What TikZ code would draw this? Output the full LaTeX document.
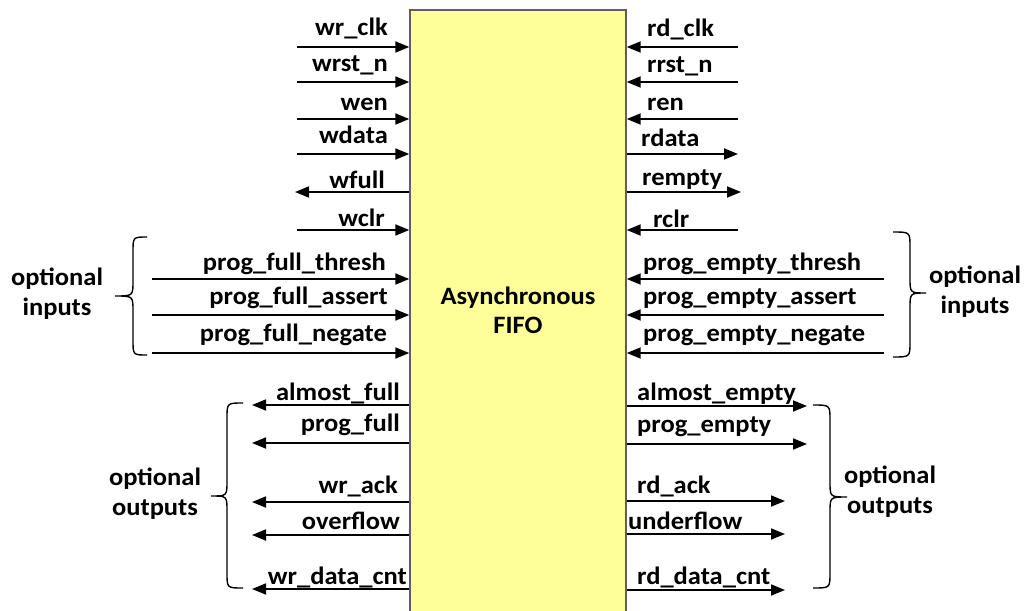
\documentclass[tikz,border=0pt]{standalone}
\usepackage{fontspec}
\setmainfont{Carlito}[FakeStretch=1.06]
\usetikzlibrary{arrows.meta}
\definecolor{fifofill}{HTML}{FFFF99}
\definecolor{fifoedge}{HTML}{5F5F5F}
\tikzset{
  sig/.style={font=\bfseries\fontsize{25}{29}\selectfont, inner sep=0pt},
  lsig/.style={sig, anchor=base east},
  rsig/.style={sig, anchor=base west},
  grp/.style={font=\bfseries\fontsize{25}{30}\selectfont, align=center, inner sep=0pt},
  wire/.style={line width=1.8pt, -{Triangle[length=14pt,width=11pt]}},
  bracepath/.style={line width=1.4pt},
}
\begin{document}
\begin{tikzpicture}[x=1pt,y=-1pt]
\useasboundingbox (0,0) rectangle (1035,610);
\clip (0,0) rectangle (1035,610);

% the FIFO block
\node[draw=fifoedge, line width=1.4pt, fill=fifofill, minimum width=216pt,
      minimum height=612pt, inner sep=0pt] (box) at (518,316) {};
\node[grp, font=\bfseries\fontsize{25}{29}\selectfont] (title) at (518,310) {Asynchronous\\FIFO};

% ---------- write side ----------
\foreach \n/\y in {wclk/47, wrst/82, wen/119, wdata/154, wclr/230}
  \coordinate (\n) at (297,\y);
\foreach \n in {wclk, wrst, wen, wdata, wclr}
  \draw[wire] (\n) -- (\n -| box.west);
\coordinate (wfull) at (295,192);
\draw[wire] (wfull -| box.west) -- (wfull);

\foreach \n/\y in {pft/279, pfa/315, pfn/353}
  \coordinate (\n) at (152,\y);
\foreach \n in {pft, pfa, pfn}
  \draw[wire] (\n) -- (\n -| box.west);

\foreach \n/\y in {afull/405, pfull/443, wack/502, ovf/535, wcnt/589}
  \coordinate (\n) at (252,\y);
\foreach \n in {afull, pfull, wack, ovf, wcnt}
  \draw[wire] (\n -| box.west) -- (\n);

\node[lsig] (l1)  at (388,36)  {wr\_clk};
\node[lsig] (l2)  at (388,71)  {wrst\_n};
\node[lsig] (l3)  at (388,110) {wen};
\node[lsig] (l4)  at (388,143) {wdata};
\node[lsig] (l5)  at (385,188) {wfull};
\node[lsig] (l6)  at (385,226) {wclr};
\node[lsig] (l7)  at (386,270) {prog\_full\_thresh};
\node[lsig] (l8)  at (388,304) {prog\_full\_assert};
\node[lsig] (l9)  at (387,341) {prog\_full\_negate};
\node[lsig] (l10) at (400,400) {almost\_full};
\node[lsig] (l11) at (400,431) {prog\_full};
\node[lsig] (l12) at (398,493) {wr\_ack};
\node[lsig] (l13) at (400,529) {overflow};
\node[lsig] (l14) at (407,584) {wr\_data\_cnt};

% ---------- read side ----------
\foreach \n/\y in {rclk/47, rrst/82, ren/119, rclr/230}
  \coordinate (\n) at (738,\y);
\foreach \n in {rclk, rrst, ren, rclr}
  \draw[wire] (\n) -- (\n -| box.east);
\coordinate (rdata) at (738,154);
\coordinate (rempty) at (741,192);
\draw[wire] (rdata -| box.east) -- (rdata);
\draw[wire] (rempty -| box.east) -- (rempty);

\foreach \n/\y in {pet/279, pea/315, pen/353}
  \coordinate (\n) at (884,\y);
\foreach \n in {pet, pea, pen}
  \draw[wire] (\n) -- (\n -| box.east);

\foreach \n/\y in {aempty/406, pempty/444}
  \coordinate (\n) at (807,\y);
\foreach \n/\y in {rack/501, udf/534, rcnt/590}
  \coordinate (\n) at (785,\y);
\foreach \n in {aempty, pempty, rack, udf, rcnt}
  \draw[wire] (\n -| box.east) -- (\n);

\node[rsig] (r1)  at (647,37)  {rd\_clk};
\node[rsig] (r2)  at (647,72)  {rrst\_n};
\node[rsig] (r3)  at (647,110) {ren};
\node[rsig] (r4)  at (641,146) {rdata};
\node[rsig] (r5)  at (642,185) {rempty};
\node[rsig] (r6)  at (653,227) {rclr};
\node[rsig] (r7)  at (643,270) {prog\_empty\_thresh};
\node[rsig] (r8)  at (643,304) {prog\_empty\_assert};
\node[rsig] (r9)  at (643,341) {prog\_empty\_negate};
\node[rsig] (r10) at (637,400) {almost\_empty};
\node[rsig] (r11) at (637,432) {prog\_empty};
\node[rsig] (r12) at (637,493) {rd\_ack};
\node[rsig] (r13) at (628,529) {underflow};
\node[rsig] (r14) at (637,584) {rd\_data\_cnt};

% ---------- grouping braces ----------
% left: optional inputs
\draw[bracepath] (147,237) .. controls (133,237) .. (133,252) -- (133,281)
  .. controls (133,296) .. (115,296) .. controls (133,296) .. (133,311)
  -- (133,340) .. controls (133,355) .. (147,355);
% left: optional outputs
\draw[bracepath] (243,403) .. controls (227,403) .. (227,418) -- (227,481)
  .. controls (227,496) .. (211,496) .. controls (227,496) .. (227,511)
  -- (227,573) .. controls (227,588) .. (243,588);
% right: optional inputs
\draw[bracepath] (893,232) .. controls (910,232) .. (910,247) -- (910,278)
  .. controls (910,293) .. (926,293) .. controls (910,293) .. (910,308)
  -- (910,342) .. controls (910,357) .. (893,357);
% right: optional outputs
\draw[bracepath] (813,405) .. controls (830,405) .. (830,420) -- (830,482)
  .. controls (830,497) .. (847,497) .. controls (830,497) .. (830,512)
  -- (830,573) .. controls (830,588) .. (813,588);

\node[grp] (gin)   at (57,294)  {optional\\inputs};
\node[grp] (gout)  at (155,494) {optional\\outputs};
\node[grp] (gin2)  at (975,292) {optional\\inputs};
\node[grp] (gout2) at (890,492) {optional\\outputs};
\end{tikzpicture}
\end{document}
